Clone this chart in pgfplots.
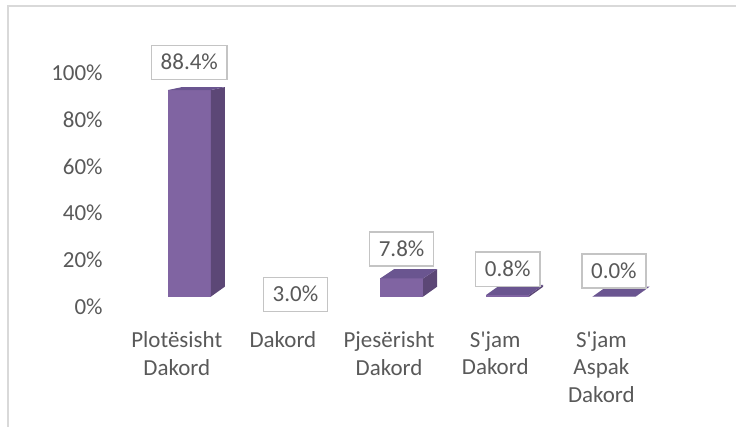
\documentclass[border=0pt]{standalone}
\usepackage{pgfplots}
\pgfplotsset{compat=1.18}
\usepackage{pgfplotstable}
\usepackage{fontspec}
\setmainfont{Carlito}
\definecolor{barfront}{HTML}{8064A2}
\definecolor{barside}{HTML}{5C4776}
\definecolor{bartop}{HTML}{6A5590}
\definecolor{txt}{HTML}{595959}
\definecolor{boxgray}{HTML}{C4C4C4}
\definecolor{framegray}{HTML}{D9D9D9}

% x = category index, y = value (%), off = label offset (pt), vis = bar drawn
\pgfplotstableread{
x y off vis
0 88.4 20.6 1
1 3.0 -3.75 0
2 7.8 22.0 1
3 0.8 19.2 1
4 0.0 19.3 1
}\datatable

\pgfdeclareplotmark{bar3d}{%
  \ifdim\barvis pt>0.5pt
  \pgfmathsetmacro\hh{\barh*1.755}%
  \pgfmathsetmacro\dyt{(10-0.08*\barh)*0.75}%
  \def\hw{16.125}%
  \def\dx{10.5}%
  \def\dyb{7.5}%
  \pgfpathrectanglecorners{\pgfpoint{-\hw pt}{-\hh pt}}{\pgfpoint{\hw pt}{0pt}}%
  \pgfsetfillcolor{barfront}\pgfusepath{fill}%
  \pgfpathmoveto{\pgfpoint{\hw pt}{-\hh pt}}%
  \pgfpathlineto{\pgfpoint{\hw pt+\dx pt}{-\hh pt+\dyb pt}}%
  \pgfpathlineto{\pgfpoint{\hw pt+\dx pt}{\dyt pt}}%
  \pgfpathlineto{\pgfpoint{\hw pt}{0pt}}%
  \pgfpathclose
  \pgfsetfillcolor{barside}\pgfusepath{fill}%
  \pgfpathmoveto{\pgfpoint{-\hw pt}{0pt}}%
  \pgfpathlineto{\pgfpoint{\hw pt}{0pt}}%
  \pgfpathlineto{\pgfpoint{\hw pt+\dx pt}{\dyt pt}}%
  \pgfpathlineto{\pgfpoint{-\hw pt+\dx pt}{\dyt pt}}%
  \pgfpathclose
  \pgfsetfillcolor{bartop}\pgfusepath{fill}%
  \fi
}

\begin{document}
\begin{tikzpicture}
\begin{axis}[
  scale only axis, width=552.75pt, height=320.25pt,
  xmin=-1.78353, xmax=5.15294, ymin=-55.556, ymax=126.923,
  clip=false,
  axis line style={draw=none},
  major tick length=0pt,
  tick style={draw=none},
  /pgf/number format/assume math mode=true,
  xtick={0,1,2,3,4},
  xticklabels={{Plotësisht\\Dakord},{Dakord},{Pjesërisht\\Dakord},{S\textquotesingle jam\\Dakord},{S\textquotesingle jam\\Aspak\\Dakord}},
  xticklabel style={align=center, anchor=north, inner sep=0pt, yshift=71.6pt, xshift=-9.4pt, font=\fontsize{17.25}{20.8}\selectfont, text=txt},
  ytick={-4.2735,15.7265,35.7265,55.7265,75.7265,95.7265},
  yticklabels={0\%,20\%,40\%,60\%,80\%,100\%},
  yticklabel style={anchor=east, inner sep=0pt, xshift=77.25pt, font=\fontsize{17.25}{20.8}\selectfont, text=txt},
]
\path (rel axis cs:0,0) rectangle (rel axis cs:1,1);
\addplot[scatter, only marks, mark=bar3d,
  scatter/@pre marker code/.code={\pgfscope},
  scatter/@post marker code/.code={\endpgfscope},
  point meta=y,
  visualization depends on={rawy \as \barh},
  visualization depends on={\thisrow{vis} \as \barvis},
  visualization depends on={\thisrow{off} \as \laboff},
  nodes near coords={\pgfmathprintnumber[fixed,fixed zerofill,precision=1]{\pgfplotspointmeta}\%},
  every node near coord/.append style={anchor=center, yshift=\laboff pt, draw=boxgray, line width=1.1pt, fill=white, text=txt, inner xsep=7pt, inner ysep=7pt, text height=11.2pt, text depth=0.4pt, font=\fontsize{17.25}{20.8}\selectfont},
] table[x=x, y=y] {\datatable};
\draw[framegray, line width=1.1pt] (axis cs:-1.70824,-55.556) -- (axis cs:-1.70824,124.359) -- (axis cs:5.15294,124.359);
\end{axis}
\end{tikzpicture}
\end{document}
